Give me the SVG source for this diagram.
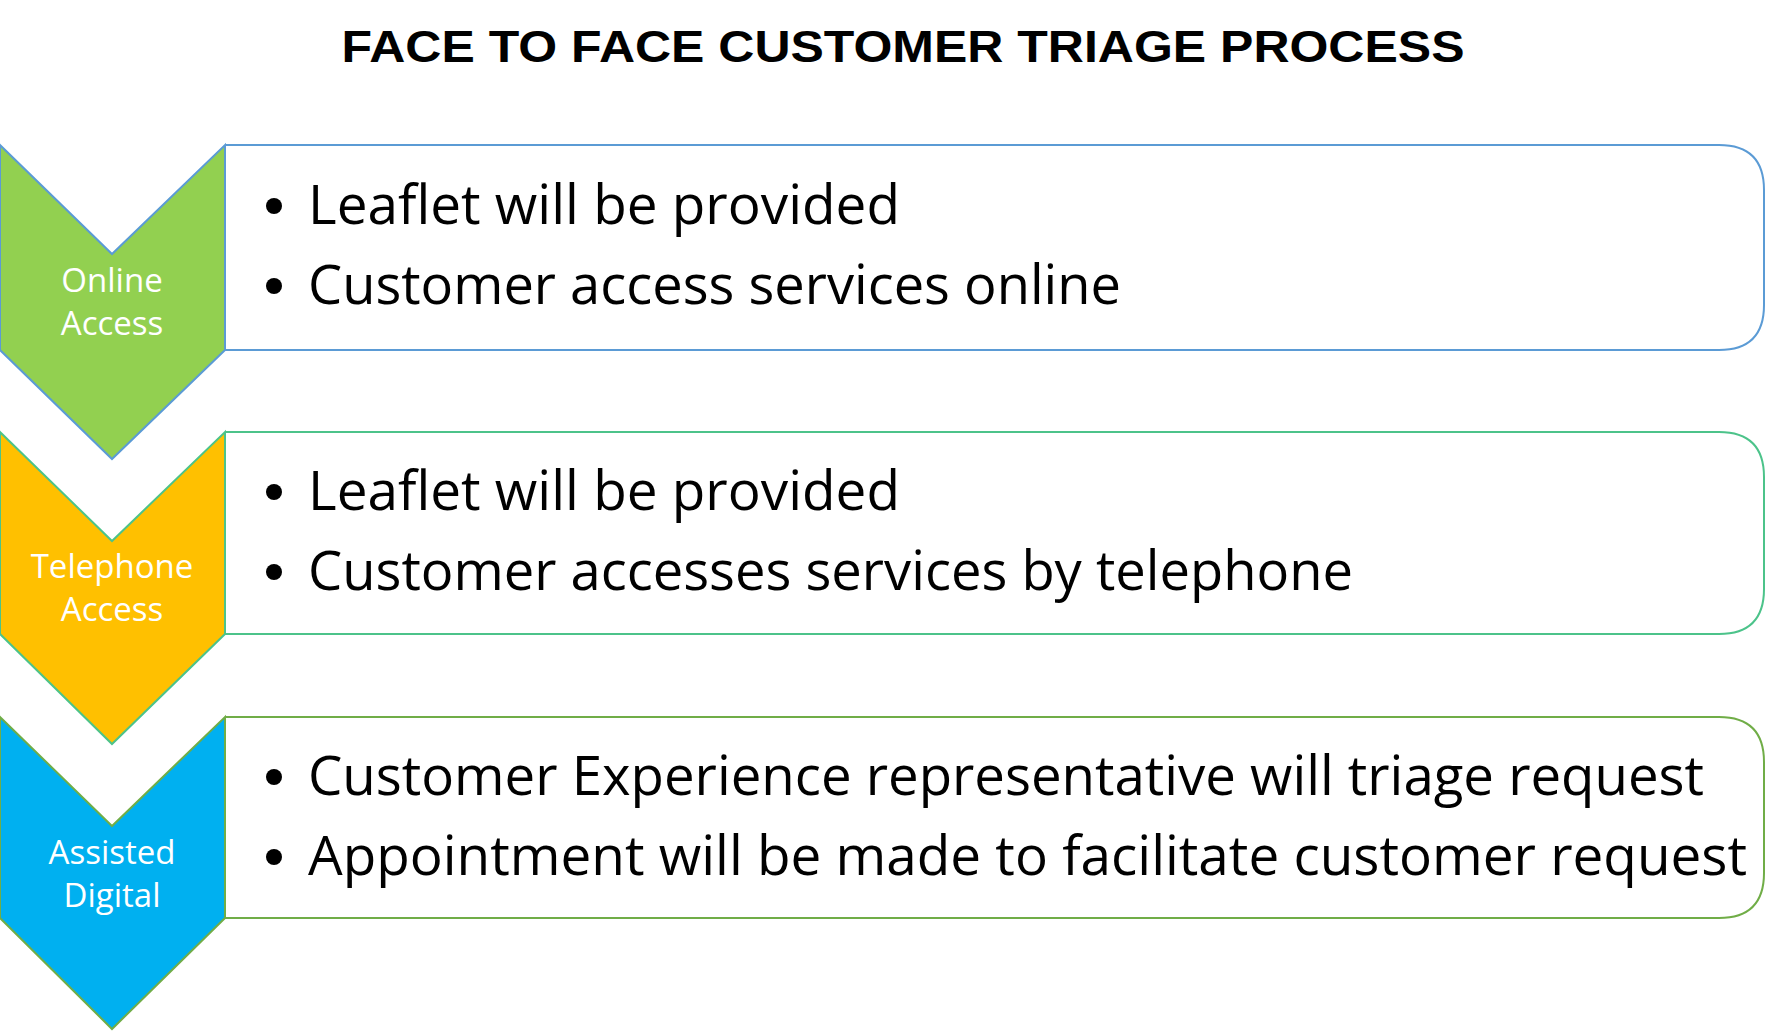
<svg xmlns="http://www.w3.org/2000/svg" width="1779" height="1035" viewBox="0 0 1779 1035">
<style>
.t{font-family:"Open Sans","Liberation Sans",sans-serif;font-size:54px;fill:#000}
.l{font-family:"Open Sans","Liberation Sans",sans-serif;font-size:33px;fill:#fff;text-anchor:middle}
.b{fill:#fff;stroke-width:2}
.d{fill:#000}
</style>
<rect width="1779" height="1035" fill="#fff"/>
<text x="903" y="62" text-anchor="middle" font-family="Liberation Sans, Arial, sans-serif" font-weight="bold" font-size="44" textLength="1123" lengthAdjust="spacingAndGlyphs">FACE TO FACE CUSTOMER TRIAGE PROCESS</text>
<g id="row1">
<path class="b" stroke="#5b9bd5" d="M225,145 H1719 Q1764,145 1764,190 V305 Q1764,350 1719,350 H225"/>
<path d="M0,145 L112,254 L225,145 L225,350 L112,459 L0,350 Z" fill="#92d050" stroke="#5b9bd5" stroke-width="2"/>
<text class="l" x="112" y="292">Online</text><text class="l" x="112" y="335">Access</text>
<circle class="d" cx="274" cy="206" r="8"/><circle class="d" cx="274" cy="286" r="8"/>
<text class="t" x="308" y="224" textLength="592" lengthAdjust="spacingAndGlyphs">Leaflet will be provided</text>
<text class="t" x="308" y="304" textLength="813" lengthAdjust="spacingAndGlyphs">Customer access services online</text>
</g>
<g id="row2">
<path class="b" stroke="#4cc38a" d="M225,432 H1719 Q1764,432 1764,477 V589 Q1764,634 1719,634 H225"/>
<path d="M0,432 L112,541 L225,432 L225,634 L112,744 L0,634 Z" fill="#ffc000" stroke="#4cc38a" stroke-width="2"/>
<text class="l" x="112" y="578">Telephone</text><text class="l" x="112" y="621">Access</text>
<circle class="d" cx="274" cy="492" r="8"/><circle class="d" cx="274" cy="572" r="8"/>
<text class="t" x="308" y="510" textLength="592" lengthAdjust="spacingAndGlyphs">Leaflet will be provided</text>
<text class="t" x="308" y="590" textLength="1045" lengthAdjust="spacingAndGlyphs">Customer accesses services by telephone</text>
</g>
<g id="row3">
<path class="b" stroke="#70ad47" d="M225,717 H1719 Q1764,717 1764,762 V873 Q1764,918 1719,918 H225"/>
<path d="M0,717 L112,826 L225,717 L225,918 L112,1029 L0,918 Z" fill="#00b0f0" stroke="#70ad47" stroke-width="2"/>
<text class="l" x="112" y="864">Assisted</text><text class="l" x="112" y="907">Digital</text>
<circle class="d" cx="274" cy="777" r="8"/><circle class="d" cx="274" cy="857" r="8"/>
<text class="t" x="308" y="795" textLength="1396" lengthAdjust="spacingAndGlyphs">Customer Experience representative will triage request</text>
<text class="t" x="308" y="875" textLength="1439" lengthAdjust="spacingAndGlyphs">Appointment will be made to facilitate customer request</text>
</g>
</svg>
